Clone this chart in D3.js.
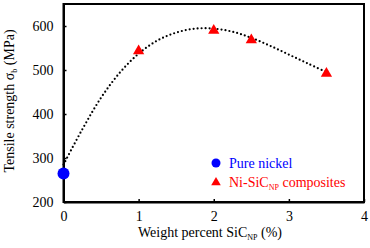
<!DOCTYPE html>
<html>
<head>
<meta charset="utf-8">
<script src="https://cdn.jsdelivr.net/npm/d3@7"></script>
<style>
  body { margin: 0; background: white; }
</style>
</head>
<body>
<div id="chart"></div>
<script>
// measured points
var pureX = [0]
var pureY = [265]
var compX = [1, 2, 2.5, 3.5]
var compY = [543, 590, 568, 492]
// dotted trend curve
var trendX = [0, 0.25, 0.5, 0.75, 1, 1.25, 1.5, 1.75, 2, 2.25, 2.5, 2.75, 3, 3.25, 3.5]
var trendY = [285, 365, 437, 494, 537, 567, 585, 594, 594, 587, 573, 555, 535, 515, 495]
var xTicks = [0, 1, 2, 3, 4]
var yTicks = [200, 300, 400, 500, 600]

var serif = "Liberation Serif"
var fontSize = 14

var dimensions = {
  width: 370,
  height: 248,
  margin: { top: 4, right: 6, bottom: 46, left: 63.5 }
}
dimensions.boundedWidth = dimensions.width - dimensions.margin.left - dimensions.margin.right
dimensions.boundedHeight = dimensions.height - dimensions.margin.top - dimensions.margin.bottom

var svg = d3.select("#chart").append("svg")
  .attr("width", dimensions.width)
  .attr("height", dimensions.height)
  .attr("font-family", serif)

var bounds = svg.append("g")
  .attr("transform", `translate(${dimensions.margin.left},${dimensions.margin.top})`)

var xScale = d3.scaleLinear().domain([0, 4]).range([0, dimensions.boundedWidth])
var yScale = d3.scaleLinear().domain([200, 650]).range([dimensions.boundedHeight, 0])

// frame
bounds.append("rect")
  .attr("width", dimensions.boundedWidth)
  .attr("height", dimensions.boundedHeight)
  .attr("fill", "none")
  .attr("stroke", "black")
  .attr("stroke-width", 2)

var xAxis = bounds.append("g")
  .attr("transform", `translate(0,${dimensions.boundedHeight})`)
  .call(d3.axisBottom(xScale).tickValues(xTicks).tickFormat(d3.format("d"))
    .tickSizeInner(-3).tickSizeOuter(0).tickPadding(9))
var yAxis = bounds.append("g")
  .call(d3.axisLeft(yScale).tickValues(yTicks).tickFormat(d3.format("d"))
    .tickSizeInner(-3).tickSizeOuter(0).tickPadding(10))

;[xAxis, yAxis].forEach(a => {
  a.attr("font-family", null)
  a.select(".domain").attr("stroke-width", 2)
  a.selectAll(".tick line").attr("stroke-width", 1.5)
  a.selectAll("text").attr("font-size", fontSize).attr("fill", "black")
})

// trend curve
var trend = trendX.map((x, i) => [x, trendY[i]])
bounds.append("path")
  .datum(trend)
  .attr("fill", "none")
  .attr("stroke", "black")
  .attr("stroke-width", 2.2)
  .attr("stroke-linecap", "round")
  .attr("stroke-dasharray", "0 4")
  .attr("d", d3.line().x(d => xScale(d[0])).y(d => yScale(d[1])).curve(d3.curveCatmullRom))

// pure nickel
bounds.selectAll(".pure")
  .data(pureX.map((x, i) => [x, pureY[i]]))
  .enter().append("circle")
  .attr("cx", d => xScale(d[0]))
  .attr("cy", d => yScale(d[1]))
  .attr("r", 6)
  .attr("fill", "#0000ff")

var tri = d3.symbol().type(d3.symbolTriangle)
bounds.selectAll(".comp")
  .data(compX.map((x, i) => [x, compY[i]]))
  .enter().append("path")
  .attr("transform", d => `translate(${xScale(d[0])},${yScale(d[1])})`)
  .attr("d", tri.size(55))
  .attr("fill", "#ff0000")

// legend
var legend = svg.append("g")
legend.append("circle").attr("cx", 216).attr("cy", 163).attr("r", 4.5).attr("fill", "#0000ff")
legend.append("text").attr("x", 229).attr("y", 167.5).attr("font-size", fontSize).attr("fill", "#0000ff")
  .text("Pure nickel")
legend.append("path").attr("transform", "translate(216,182.5)")
  .attr("d", d3.symbol().type(d3.symbolTriangle).size(40)).attr("fill", "#ff0000")
var lt = legend.append("text").attr("x", 229).attr("y", 187).attr("font-size", fontSize).attr("fill", "#ff0000")
lt.append("tspan").text("Ni-SiC")
lt.append("tspan").attr("font-size", 8).attr("dy", 3).text("NP")
lt.append("tspan").attr("dy", -3).text(" composites")

// axis titles
var xt = svg.append("text")
  .attr("x", 210).attr("y", 237)
  .attr("text-anchor", "middle")
  .attr("font-size", fontSize)
xt.append("tspan").text("Weight percent SiC")
xt.append("tspan").attr("font-size", 8).attr("dy", 3).text("NP")
xt.append("tspan").attr("dy", -3).text(" (%)")

var yt = svg.append("text")
  .attr("transform", "translate(14,101) rotate(-90)")
  .attr("text-anchor", "middle")
  .attr("font-size", fontSize)
yt.append("tspan").text("Tensile strength σ")
yt.append("tspan").attr("font-size", 8).attr("dy", 3).text("b")
yt.append("tspan").attr("dy", -3).text(" (MPa)")

svg.selectAll("text").style("font-family", serif)
</script>
</body>
</html>
